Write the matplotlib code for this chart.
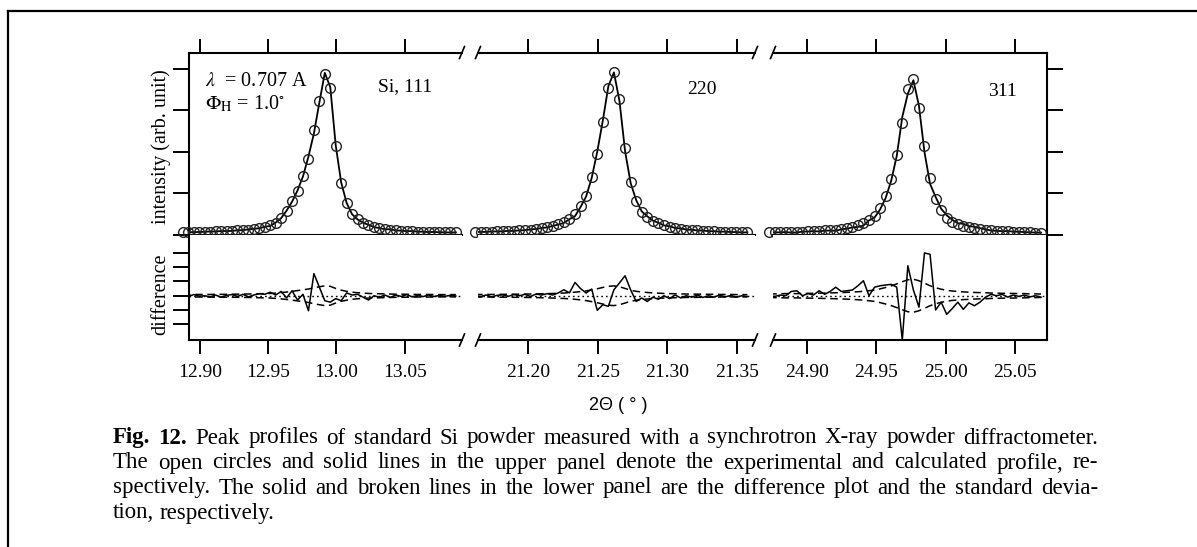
import numpy as np
import matplotlib
matplotlib.use("Agg")
import matplotlib.pyplot as plt
from matplotlib.lines import Line2D

plt.rcParams['font.family'] = ['Liberation Serif', 'DejaVu Serif']
plt.rcParams['mathtext.fontset'] = 'stix'

# ---- data ----
step = 0.004  # 2theta step of the scan

# Si 111
start_111 = 12.8875
obs_111 = [0.06, 0.055, 0.06, 0.06, 0.065, 0.07, 0.075, 0.08, 0.085, 0.09,
           0.10, 0.11, 0.12, 0.14, 0.16, 0.19, 0.22, 0.29, 0.41, 0.57,
           0.81, 1.05, 1.41, 1.83, 2.52, 3.22, 3.89, 3.54, 2.14, 1.24,
           0.77, 0.49, 0.37, 0.28, 0.22, 0.18, 0.15, 0.13, 0.12, 0.10,
           0.09, 0.085, 0.08, 0.07, 0.065, 0.06, 0.06, 0.055, 0.05, 0.05, 0.05]
diff_111 = [0.05, -0.05, 0.08, -0.03, 0.0, -0.08, 0.05, -0.1, 0.03, 0.08,
            -0.05, 0.1, -0.08, 0.05, 0.15, 0.1, 0.25, 0.05, 0.3, -0.15,
            0.35, -0.3, 0.1, -1.05, 1.55, 0.6, -0.35, -0.45, -0.2, -0.35,
            0.2, 0.05, 0.1, -0.1, -0.3, 0.0, -0.1, 0.05, -0.12, 0.05,
            -0.05, 0.08, -0.08, 0.03, -0.06, 0.05, -0.05, 0.02, -0.04, 0.03, -0.02]
sig_111 = [0.09, 0.08, 0.09, 0.09, 0.09, 0.09, 0.10, 0.10, 0.10, 0.11,
           0.11, 0.12, 0.12, 0.13, 0.14, 0.15, 0.16, 0.19, 0.22, 0.26,
           0.31, 0.36, 0.42, 0.47, 0.56, 0.63, 0.69, 0.66, 0.51, 0.39,
           0.31, 0.25, 0.21, 0.19, 0.16, 0.15, 0.14, 0.13, 0.12, 0.11,
           0.11, 0.10, 0.10, 0.09, 0.09, 0.09, 0.09, 0.08, 0.08, 0.08, 0.08]

# Si 220
start_220 = 21.1615
obs_220 = [0.06, 0.06, 0.065, 0.07, 0.075, 0.08, 0.085, 0.09, 0.10, 0.11,
           0.12, 0.14, 0.16, 0.18, 0.21, 0.25, 0.30, 0.38, 0.49, 0.69,
           0.93, 1.39, 1.95, 2.72, 3.55, 3.94, 3.27, 2.09, 1.27, 0.81,
           0.55, 0.42, 0.33, 0.27, 0.22, 0.19, 0.16, 0.14, 0.12, 0.11,
           0.10, 0.09, 0.08, 0.075, 0.07, 0.065, 0.06, 0.055, 0.05, 0.05]
diff_220 = [0.0, -0.05, 0.05, -0.08, 0.03, 0.06, -0.04, 0.08, 0.0, 0.1,
            -0.05, 0.12, 0.05, 0.15, 0.05, 0.2, 0.42, 0.2, 0.93, 0.5,
            0.19, 0.47, -1.02, -0.63, -0.74, 0.42, 0.9, 1.4, 0.42, -0.4,
            -0.16, -0.4, -0.1, -0.25, 0.0, -0.2, 0.05, -0.15, 0.0, -0.1,
            0.05, -0.12, 0.0, -0.1, 0.05, -0.08, 0.02, -0.1, 0.0, -0.05]
sig_220 = [0.09, 0.09, 0.09, 0.09, 0.10, 0.10, 0.10, 0.11, 0.11, 0.12,
           0.12, 0.13, 0.14, 0.15, 0.16, 0.18, 0.19, 0.22, 0.25, 0.29,
           0.34, 0.41, 0.49, 0.58, 0.66, 0.69, 0.63, 0.51, 0.39, 0.31,
           0.26, 0.23, 0.20, 0.18, 0.16, 0.15, 0.14, 0.13, 0.12, 0.12,
           0.11, 0.11, 0.10, 0.10, 0.09, 0.09, 0.09, 0.08, 0.08, 0.08]

# Si 311
start_311 = 24.8727
obs_311 = [0.05, 0.05, 0.055, 0.06, 0.06, 0.065, 0.07, 0.08, 0.085, 0.09,
           0.10, 0.11, 0.12, 0.14, 0.16, 0.19, 0.22, 0.27, 0.34, 0.44,
           0.64, 0.92, 1.34, 1.93, 2.69, 3.51, 3.75, 3.07, 2.14, 1.37,
           0.86, 0.60, 0.40, 0.31, 0.25, 0.21, 0.18, 0.15, 0.13, 0.12,
           0.10, 0.09, 0.085, 0.08, 0.07, 0.065, 0.06, 0.05, 0.045, 0.04]
diff_311 = [0.0, -0.05, 0.05, 0.0, 0.3, 0.35, 0.0, 0.15, 0.05, 0.35,
            0.1, 0.3, 0.6, 0.3, 0.35, 0.4, 0.7, 1.05, 0.0, 0.6,
            0.7, 0.75, 0.8, 0.6, -3.1, 2.1, 0.4, -0.8, 3.0, 2.9,
            -1.0, -0.45, -1.3, -0.9, -0.45, -0.95, -0.5, -0.7, -0.45, -0.1,
            0.1, 0.0, 0.1, -0.1, 0.05, -0.05, 0.05, -0.08, 0.0, -0.1]
sig_311 = [0.13, 0.13, 0.14, 0.15, 0.15, 0.15, 0.16, 0.17, 0.17, 0.18,
           0.19, 0.20, 0.21, 0.22, 0.24, 0.26, 0.28, 0.31, 0.35, 0.40,
           0.48, 0.58, 0.69, 0.83, 0.98, 1.12, 1.16, 1.05, 0.88, 0.70,
           0.56, 0.46, 0.38, 0.33, 0.30, 0.27, 0.25, 0.23, 0.22, 0.21,
           0.19, 0.18, 0.17, 0.17, 0.16, 0.15, 0.15, 0.13, 0.13, 0.12]

xlims = [(12.892, 13.092), (21.1637, 21.363), (24.8755, 25.073)]
xticks = [[12.90, 12.95, 13.00, 13.05], [21.20, 21.25, 21.30, 21.35],
          [24.90, 24.95, 25.00, 25.05]]
peak_names = ["Si, 111", "220", "311"]

caption = [
    "Peak profiles of standard Si powder measured with a synchrotron X-ray powder diffractometer.",
    "The open circles and solid lines in the upper panel denote the experimental and calculated profile, re-",
    "spectively. The solid and broken lines in the lower panel are the difference plot and the standard devia-",
    "tion, respectively.",
]

panels = [(start_111, obs_111, diff_111, sig_111),
          (start_220, obs_220, diff_220, sig_220),
          (start_311, obs_311, diff_311, sig_311)]

W, H = 1197, 547
fig = plt.figure(figsize=(W / 100, H / 100), dpi=100)

def px_box(x0, x1, ytop, ybot):
    return [x0 / W, 1 - ybot / H, (x1 - x0) / W, (ybot - ytop) / H]

cols = [(189, 462), (478, 755), (773, 1047)]
y_top, y_mid, y_bot = 52.5, 234.5, 340

lw_sp = 1.5
for j, ((x0, x1), (start, obs, diff, sig)) in enumerate(zip(cols, panels)):
    obs = np.array(obs)
    diff = np.array(diff)
    sig = np.array(sig)
    x = start + step * np.arange(len(obs))
    calc = obs - 0.05 * diff

    up = fig.add_axes(px_box(x0, x1, y_top, y_mid))
    lo = fig.add_axes(px_box(x0, x1, y_mid, y_bot))

    up.plot(x, calc, color='black', lw=1.3, zorder=2)
    up.plot(x, obs, 'o', mfc='none', mec='#222222', ms=7, mew=1.0,
            clip_on=False, zorder=3)
    up.set_ylim(0, 4.4)
    up.set_xlim(*xlims[j])

    lo.axhline(0, color='black', lw=1.0, ls=(0, (1.2, 2.2)))
    lo.plot(x, sig, color='black', lw=1.1, dashes=(5, 3))
    lo.plot(x, -sig, color='black', lw=1.1, dashes=(5, 3))
    lo.plot(x, diff, color='black', lw=1.1)
    lo.set_ylim(-3.1, 4.29)
    lo.set_xlim(*xlims[j])

    for ax in (up, lo):
        for s in ax.spines.values():
            s.set_linewidth(lw_sp)
            s.set_visible(False)
    up.spines['top'].set_visible(True)
    up.spines['bottom'].set_visible(True)
    lo.spines['bottom'].set_visible(True)

    up.xaxis.set_ticks_position('top')
    up.set_xticks(xticks[j])
    up.tick_params(axis='x', direction='out', length=10, width=1.4, labeltop=False)
    lo.set_xticks(xticks[j])
    lo.set_xticklabels(["%.2f" % t for t in xticks[j]])
    lo.tick_params(axis='x', direction='out', length=10, width=1.4, labelsize=14, pad=7)

    up.set_yticks([0, 1, 2, 3, 4])
    lo.set_yticks([-2, -1, 0, 1, 2, 3])
    up.tick_params(axis='y', direction='out', length=11.5, width=1.4, labelleft=False,
                   labelright=False, left=False, right=False)
    lo.tick_params(axis='y', direction='out', length=11.5, width=1.4, labelleft=False,
                   labelright=False, left=False, right=False)
    if j == 0:
        up.spines['left'].set_visible(True)
        lo.spines['left'].set_visible(True)
        up.tick_params(axis='y', left=True)
        lo.tick_params(axis='y', left=True)
    if j == 2:
        up.spines['right'].set_visible(True)
        lo.spines['right'].set_visible(True)
        up.tick_params(axis='y', right=True)

    # axis break marks
    wpx, hup, hlo = x1 - x0, y_mid - y_top, y_bot - y_mid
    ends = []
    if j < 2:
        ends.append(1)
    if j > 0:
        ends.append(0)
    for e in ends:
        dx = 2.5 / wpx
        up.plot([e - dx, e + dx], [1 - 6 / hup, 1 + 6 / hup], color='black', lw=1.2,
                transform=up.transAxes, clip_on=False)
        lo.plot([e - dx, e + dx], [-6 / hlo, 6 / hlo], color='black', lw=1.2,
                transform=lo.transAxes, clip_on=False)

# labels inside the plot
fig.text(205 / W, 1 - 82 / H, r'$\lambda$  = 0.707 A', fontsize=14.5, va='center')
fig.text(205 / W, 1 - 104 / H, r'$\Phi_{\mathrm{H}}$ = 1.0$^{\circ}$', fontsize=14.5, va='center')
for name, (xp, yp) in zip(peak_names, [(378, 87), (687, 89), (988, 91)]):
    fig.text(xp / W, 1 - yp / H, name, fontsize=14, va='center')

fig.text(161 / W, 1 - 147 / H, 'intensity (arb. unit)', rotation=90, fontsize=14.5,
         ha='center', va='center')
fig.text(161 / W, 1 - 294 / H, 'difference', rotation=90, fontsize=14.5,
         ha='center', va='center')
fig.text(618 / W, 1 - 405 / H, '2Θ ( ° )', fontsize=13, ha='center', va='center',
         family=['Liberation Sans', 'DejaVu Sans'])

# outer frame
fig.add_artist(Line2D([8 / W, 1.0], [1 - 11 / H, 1 - 11 / H], color='black', lw=1.6))
fig.add_artist(Line2D([8 / W, 8 / W], [1 - 11 / H, 0.0], color='black', lw=1.6))

# caption, justified
renderer = fig.canvas.get_renderer()
cap_x0, cap_x1 = 113, 1098
cap_y = [438, 463, 488, 513]
cap_fs = 16.5
for n, line in enumerate(caption):
    words = line.split(' ')
    weights = ['normal'] * len(words)
    if n == 0:
        words = ['Fig.', '12.'] + words
        weights = ['bold', 'bold'] + weights
    texts = [fig.text(0, 1 - cap_y[n] / H, w, fontsize=cap_fs, weight=wt, va='center')
             for w, wt in zip(words, weights)]
    widths = [t.get_window_extent(renderer).width for t in texts]
    space = 0.25 * cap_fs * 100 / 72
    if n < 3:
        gap = max((cap_x1 - cap_x0 - sum(widths)) / (len(words) - 1), 0.6 * space)
    else:
        gap = space
    xp = cap_x0
    for t, w in zip(texts, widths):
        t.set_x(xp / W)
        xp += w + gap

fig.savefig('out.png', dpi=100)
